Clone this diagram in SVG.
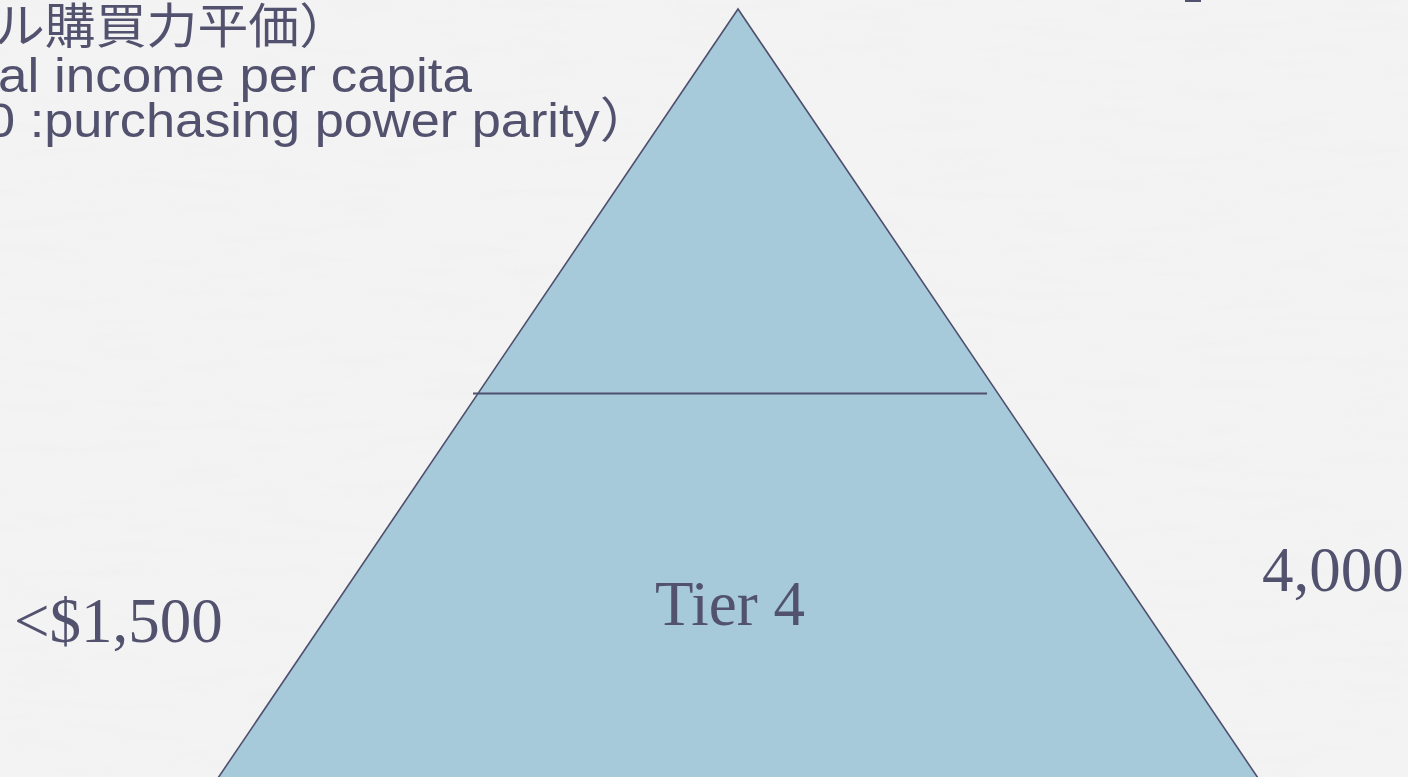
<svg xmlns="http://www.w3.org/2000/svg" width="1408" height="777" viewBox="0 0 1408 777">
  <defs>
    <filter id="paper" x="0" y="0" width="100%" height="100%">
      <feTurbulence type="fractalNoise" baseFrequency="0.012 0.09" numOctaves="3" seed="4" result="n"/>
      <feColorMatrix in="n" type="matrix" values="0 0 0 0 0.86  0 0 0 0 0.86  0 0 0 0 0.86  0 0 0 -1.6 0.9" />
    </filter>
    <style>
      .lbl { fill: #52526F; font-family: "Liberation Serif", "Times New Roman", serif; font-size: 63px; }
      .head { fill: #52526F; font-family: "Liberation Sans", "Noto Sans CJK JP", sans-serif; font-size: 48px; }
      .tier { fill: #A6CAD9; stroke: #4F4F6E; stroke-width: 1.6; }
      .div { stroke: #4F4F6E; stroke-width: 2; fill: none; }
    </style>
  </defs>
  <rect width="1408" height="777" fill="#F3F3F3"/>
  <rect width="1408" height="777" filter="url(#paper)" opacity="0.5"/>

  <g id="header">
    <text class="head" x="-6" y="43" textLength="356" lengthAdjust="spacingAndGlyphs" font-size="46">ル購買力平価）</text>
    <text class="head" x="-2" y="92" textLength="474" lengthAdjust="spacingAndGlyphs">al income per capita</text>
    <text class="head" x="-14" y="137" textLength="666" lengthAdjust="spacingAndGlyphs">0 :purchasing power parity）</text>
    <rect x="1185" y="0" width="16" height="2" fill="#52526F"/>
  </g>

  <g id="pyramid">
    <polygon class="tier" points="738,9 1258,778 218,778"/>
  </g>

  <g id="connectors">
    <line class="div" x1="473" y1="393.5" x2="987" y2="393.5"/>
  </g>

  <g id="tier4">
    <text class="lbl" x="730" y="625" text-anchor="middle">Tier 4</text>
  </g>
  <g id="low-label">
    <text class="lbl" x="14" y="642">&lt;$1,500</text>
  </g>
  <g id="high-label">
    <text class="lbl" x="1262" y="591">4,000</text>
  </g>
</svg>
